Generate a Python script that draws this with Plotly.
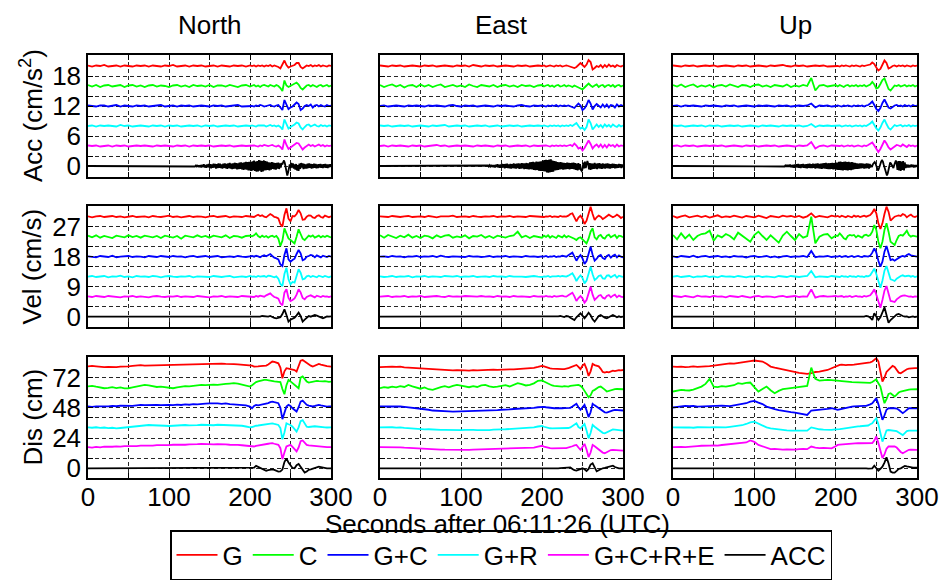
import plotly.graph_objects as go

W, H = 952, 582

# sampling times (s): every 5 s up to 200 s, then every 2.5 s
T = list(range(0, 201, 5)) + [202.5 + 2.5 * i for i in range(40)]
# dense sampling used for the raw accelerometer (ACC) acceleration traces
T_FINE = [0] + list(range(130, 301))

SERIES_NAMES = ["G", "C", "G+C", "G+R", "G+C+R+E", "ACC"]
COLORS = ["#ff0000", "#00ff00", "#0000ff", "#00ffff", "#ff00ff", "#000000"]
COMPONENTS = ["North", "East", "Up"]
QUANTITY_LABELS = ["Acc (cm/s<sup>2</sup>)", "Vel (cm/s)", "Dis (cm)"]
XLABEL = "Seconds after 06:11:26 (UTC)"
TRACE_SPACING = [4, 6, 16]
Y_RANGES = [[-2.2, 22.2], [-3.1, 33.2], [-7.7, 88.4]]
YTICK_VALS = [[0, 2, 6, 10, 12, 14, 18], [0, 3, 9, 15, 18, 21, 27], [0, 8, 24, 40, 48, 56, 72]]
YTICK_TEXT = [["0", "", "6", "", "12", "", "18"],
              ["0", "", "9", "", "18", "", "27"],
              ["0", "", "24", "", "48", "", "72"]]
XTICK_VALS = [0, 50, 100, 150, 200, 250, 300]
XTICK_TEXT = ["0", "", "100", "", "200", "", "300"]

# ---------------- Acceleration (cm/s^2), deviation from trace baseline ----------------
N_ACC_G = [0.1,-0.1,0.1,0.0,0.2,-0.1,0.0,0.1,-0.1,0.1,
           0.0,-0.1,0.1,0.0,0.1,-0.1,0.1,0.0,-0.1,0.1,
           0.0,0.2,-0.1,0.0,0.1,-0.1,0.1,0.0,0.1,-0.1,
           0.0,0.1,-0.1,0.1,0.0,-0.1,0.1,0.0,0.1,-0.1,
           0.1,
           0.0,0.1,-0.1,0.1,0.0,0.1,-0.1,0.1,0.0,0.2,
           -0.1,0.1,0.0,-0.2,-0.5,0.3,1.1,0.2,-0.3,-0.1,
           0.1,0.2,0.6,0.6,-0.2,-0.5,-0.2,0.1,0.0,0.2,
           -0.1,0.1,0.0,0.2,-0.1,0.1,0.0,-0.1,0.1,0.0]
N_ACC_C = [0.2,-0.1,0.2,-0.2,0.1,0.2,-0.1,0.0,0.2,-0.2,
           0.1,0.2,-0.1,0.1,-0.2,0.1,0.2,-0.1,0.1,0.0,
           -0.2,0.1,0.2,-0.1,0.1,-0.2,0.2,0.0,0.1,-0.1,
           0.2,-0.2,0.1,0.1,-0.1,0.2,0.0,-0.2,0.1,0.2,
           -0.1,
           0.1,0.2,-0.1,0.1,-0.2,0.1,0.2,0.0,-0.1,0.2,
           0.1,-0.1,0.2,0.0,-0.4,-1.0,1.1,0.1,-0.2,0.0,
           0.2,0.5,0.7,0.3,-0.4,-0.7,-0.3,0.1,0.2,-0.1,
           0.2,0.0,-0.2,0.1,0.2,-0.1,0.1,0.2,-0.1,0.1]
N_ACC_GC = [0.1,0.0,-0.1,0.1,0.1,-0.1,0.0,0.2,-0.1,0.1,
            0.0,-0.1,0.1,0.0,0.1,-0.1,0.0,0.1,0.2,-0.1,
            0.0,0.1,-0.1,0.1,0.0,0.1,-0.1,0.0,0.1,0.0,
            -0.1,0.1,0.0,0.1,-0.1,0.0,0.1,0.2,-0.1,0.0,
            0.1,
            0.0,-0.1,0.1,0.0,0.2,0.1,-0.1,0.0,0.1,0.2,
            0.0,-0.1,0.1,0.2,-0.3,-0.8,1.2,0.1,-0.6,-0.3,
            -0.1,0.3,0.7,0.4,-0.8,-0.5,0.0,0.2,0.0,0.3,
            -0.3,0.1,0.2,-0.1,0.2,0.0,-0.1,0.2,0.0,0.1]
N_ACC_GR = [0.0,0.1,-0.1,0.1,0.0,0.1,0.0,-0.1,0.2,0.0,
            0.1,-0.1,0.0,0.1,0.0,-0.1,0.1,0.0,0.1,-0.1,
            0.1,0.0,0.1,-0.1,0.0,0.1,0.0,0.1,-0.1,0.1,
            0.0,0.1,-0.1,0.0,0.1,0.0,0.1,-0.1,0.0,0.1,
            0.0,
            0.1,0.0,-0.1,0.1,0.1,0.0,0.1,-0.1,0.1,0.2,
            0.0,0.1,-0.1,0.1,-0.2,-0.7,1.3,0.2,-0.5,-0.2,
            0.0,0.3,0.7,0.5,-0.3,-0.7,-0.2,0.2,0.3,-0.1,
            0.1,0.3,0.0,-0.1,0.2,0.0,0.1,-0.1,0.1,0.0]
N_ACC_GCRE = [0.1,0.0,0.1,-0.1,0.0,0.1,-0.1,0.1,0.0,0.1,
              -0.1,0.0,0.1,0.0,0.1,0.0,-0.1,0.1,0.0,0.1,
              0.0,-0.1,0.1,0.0,0.1,-0.1,0.1,0.0,0.1,0.0,
              0.1,-0.1,0.0,0.1,0.0,0.1,-0.1,0.0,0.1,0.0,
              0.1,
              0.0,0.1,0.0,-0.1,0.1,0.0,0.2,0.1,0.0,0.1,
              0.2,0.0,-0.1,0.1,-0.2,-0.7,1.3,0.2,-0.6,-0.3,
              0.0,0.2,0.6,0.5,-0.2,-0.7,-0.3,0.1,0.3,0.0,
              0.2,-0.1,0.1,0.3,0.0,0.2,-0.1,0.1,0.0,0.1]
N_ACC_ACC = [0.0,
             0.0,0.05,-0.1,0.1,-0.05,0.2,-0.2,0.15,-0.25,0.2,
             -0.3,0.25,-0.2,0.35,-0.3,0.2,-0.35,0.3,-0.25,0.4,
             -0.3,0.35,-0.45,0.3,-0.35,0.45,-0.3,0.4,-0.5,0.35,
             -0.4,0.5,-0.35,0.45,-0.4,0.3,-0.5,0.45,-0.35,0.5,
             -0.45,0.4,-0.55,0.5,-0.4,0.6,-0.5,0.45,-0.6,0.5,
             -0.55,0.65,-0.5,0.6,-0.7,0.55,-0.65,0.7,-0.6,0.75,
             -0.7,0.65,-0.8,0.75,-0.7,0.85,-0.75,0.8,-0.9,0.85,
             -0.9,0.8,-1.0,0.95,-0.85,1.1,-1.0,0.9,-1.15,1.0,
             -1.1,1.2,-0.95,1.1,-1.2,1.0,-1.1,1.15,-0.9,1.0,
             -0.85,0.9,-0.8,0.75,-0.9,0.7,-0.75,0.8,-0.6,0.7,
             -0.7,0.6,-0.75,0.65,-0.55,0.7,-0.6,0.5,-0.3,0.6,
             0.3,0.8,1.1,0.6,-0.4,-1.2,-1.9,-1.3,-0.4,0.3,
             -0.4,0.6,-0.3,0.5,-0.5,0.3,-0.7,0.4,-0.9,0.2,
             -1.0,0.5,-0.6,0.6,-0.3,0.5,-0.6,0.4,-0.5,0.3,
             -0.5,0.45,-0.4,0.5,-0.35,0.4,-0.5,0.35,-0.4,0.45,
             -0.35,0.4,-0.45,0.3,-0.4,0.35,-0.3,0.4,-0.35,0.3,
             -0.4,0.35,-0.3,0.4,-0.35,0.3,-0.4,0.3,-0.25,0.35,
             -0.2]

E_ACC_G = [0.1,0.0,-0.1,0.1,0.0,0.1,-0.1,0.0,0.1,0.0,
           -0.1,0.1,0.0,0.1,-0.1,0.0,0.1,0.0,-0.1,0.1,
           0.0,0.1,-0.1,0.2,0.0,-0.1,0.1,0.0,0.1,-0.1,
           0.0,0.1,0.0,-0.1,0.1,0.0,0.1,-0.1,0.0,0.1,
           0.0,
           0.1,-0.1,0.0,0.1,0.0,-0.1,0.1,0.0,0.1,-0.1,
           0.0,0.1,0.0,-0.1,-0.2,-0.4,-0.2,0.3,0.6,0.2,
           -0.2,0.3,1.2,0.8,-0.7,-0.4,0.0,-0.2,0.2,-0.3,
           0.2,-0.2,0.3,-0.1,0.1,-0.2,0.2,0.0,-0.1,0.1]
E_ACC_C = [0.2,-0.2,0.1,0.3,-0.1,0.2,-0.3,0.1,0.2,-0.2,
           0.3,-0.1,0.2,-0.2,0.1,0.3,-0.2,0.0,0.2,-0.1,
           0.1,-0.2,0.3,0.0,-0.2,0.2,0.1,-0.1,0.2,-0.2,
           0.1,0.2,-0.1,0.1,-0.2,0.2,0.0,0.1,-0.2,0.1,
           0.2,
           -0.1,0.1,0.2,-0.1,0.1,-0.2,0.1,0.2,-0.1,0.0,
           0.2,-0.1,0.1,0.0,-0.2,0.1,-0.1,-0.3,-0.4,-0.7,
           -0.3,0.2,0.5,0.1,-0.2,0.1,0.3,-0.2,0.1,0.2,
           -0.2,0.1,0.2,-0.1,0.2,-0.2,0.1,0.2,-0.1,0.1]
E_ACC_GC = [0.0,0.1,-0.1,0.0,0.1,0.0,-0.1,0.1,0.0,0.1,
            0.0,-0.1,0.1,0.0,0.1,0.0,-0.1,0.1,0.2,0.0,
            -0.1,0.1,0.0,0.1,-0.1,0.0,0.1,0.0,-0.1,0.1,
            0.0,0.1,0.0,-0.1,0.1,0.2,0.0,-0.1,0.1,0.0,
            0.1,
            0.0,-0.1,0.1,0.0,0.1,0.0,0.2,-0.1,0.1,0.0,
            0.1,0.0,0.1,-0.1,-0.3,-0.4,0.1,0.5,0.1,-0.8,
            -0.5,0.2,1.2,0.5,-0.7,0.0,0.4,0.0,-0.3,0.3,
            -0.2,0.3,-0.3,0.2,0.1,-0.3,0.3,-0.1,0.2,0.0]
E_ACC_GR = [0.1,0.0,0.1,-0.1,0.0,0.1,0.0,0.1,-0.1,0.0,
            0.1,0.0,-0.1,0.1,0.0,0.1,0.2,-0.1,0.0,0.1,
            0.0,0.1,-0.1,0.0,0.1,0.0,0.1,-0.1,0.0,0.1,
            -0.1,0.0,0.1,0.0,0.1,-0.1,0.0,0.1,0.0,0.1,
            0.0,
            0.1,0.0,-0.1,0.1,0.0,0.1,0.0,0.1,-0.1,0.1,
            0.0,0.1,0.0,0.2,0.0,0.3,0.6,0.0,-0.5,-0.3,
            -0.8,-0.2,1.3,0.6,-0.7,-0.2,0.3,-0.2,0.2,-0.3,
            0.3,-0.1,0.2,-0.2,0.3,0.0,-0.2,0.2,-0.1,0.1]
E_ACC_GCRE = [0.0,0.1,-0.1,0.1,0.0,0.1,0.0,-0.1,0.1,0.0,
              0.1,-0.1,0.0,0.1,0.2,0.0,0.1,-0.1,0.0,0.1,
              0.0,0.1,0.0,-0.1,0.1,0.0,0.1,0.0,-0.1,0.1,
              0.0,0.1,-0.1,0.0,0.1,0.0,0.1,-0.1,0.1,0.0,
              0.1,
              0.0,0.1,0.0,-0.1,0.1,0.0,0.1,0.0,0.1,0.0,
              0.1,0.0,0.1,0.2,0.0,0.5,0.1,-0.5,-0.3,-0.9,
              -0.4,0.3,1.1,0.4,-0.5,0.0,0.3,-0.2,0.3,-0.3,
              0.2,-0.3,0.3,0.0,0.2,-0.2,0.3,-0.1,0.1,0.0]
E_ACC_ACC = [0.0,
             0.0,0.05,-0.05,0.1,-0.1,0.15,-0.1,0.2,-0.15,0.2,
             -0.25,0.2,-0.3,0.25,-0.2,0.35,-0.3,0.25,-0.35,0.3,
             -0.35,0.4,-0.3,0.35,-0.45,0.4,-0.35,0.45,-0.4,0.3,
             -0.45,0.4,-0.5,0.35,-0.4,0.5,-0.45,0.4,-0.5,0.45,
             -0.4,0.5,-0.55,0.45,-0.5,0.55,-0.45,0.5,-0.6,0.5,
             -0.55,0.6,-0.65,0.55,-0.7,0.75,-0.65,0.8,-0.7,0.85,
             -0.8,0.75,-0.85,0.9,-0.8,0.85,-0.95,0.9,-1.0,0.95,
             -1.0,1.1,-1.05,1.2,-1.1,1.25,-1.3,1.2,-1.35,1.3,
             -1.25,1.35,-1.2,1.1,-1.15,1.0,-0.9,0.95,-0.85,0.8,
             -0.8,0.75,-0.7,0.8,-0.65,0.7,-0.75,0.65,-0.7,0.6,
             -0.65,0.7,-0.6,0.65,-0.7,0.6,-0.55,0.65,-0.6,0.7,
             -0.7,0.6,-0.8,0.5,-0.9,0.6,-0.7,0.4,-0.8,-1.0,
             -0.6,0.7,-0.5,0.9,-0.4,0.8,1.0,0.5,-0.7,0.6,
             -0.8,0.5,-0.6,0.45,-0.55,0.6,-0.5,0.45,-0.6,0.5,
             -0.45,0.55,-0.5,0.4,-0.55,0.5,-0.45,0.4,-0.5,0.45,
             -0.4,0.5,-0.45,0.4,-0.5,0.35,-0.4,0.45,-0.35,0.4,
             -0.45,0.35,-0.4,0.3,-0.35,0.4,-0.3,0.35,-0.4,0.3,
             -0.3]

U_ACC_G = [0.1,0.0,-0.1,0.1,0.0,0.1,-0.1,0.0,0.1,0.0,
           0.1,-0.1,0.0,0.1,0.0,-0.1,0.1,0.0,0.1,-0.1,
           0.0,0.1,0.0,-0.1,0.1,0.0,0.1,0.2,0.0,-0.1,
           0.1,0.0,0.1,-0.1,0.0,0.1,0.0,0.1,-0.1,0.0,
           0.1,
           0.0,-0.1,0.1,0.0,0.1,0.0,-0.1,0.1,0.0,0.1,
           0.0,-0.1,0.1,0.0,0.1,0.2,0.3,0.7,0.4,-0.3,
           -0.9,-0.6,0.3,1.1,0.6,-0.5,-0.3,0.0,0.1,-0.1,
           0.1,0.0,0.1,-0.1,0.1,0.0,-0.1,0.1,0.0,0.1]
U_ACC_C = [0.2,-0.1,0.3,-0.2,0.1,0.3,-0.2,0.1,-0.1,0.2,
           -0.3,0.1,0.2,-0.1,0.3,0.0,-0.2,0.2,0.1,-0.2,
           0.2,0.3,-0.1,0.1,-0.2,0.2,0.1,-0.1,0.3,-0.2,
           0.1,-0.1,0.2,0.0,1.6,-0.9,0.1,0.2,-0.1,0.1,
           0.2,
           -0.1,0.2,0.0,-0.2,0.1,0.2,-0.1,0.1,0.0,0.2,
           -0.1,0.1,0.0,0.2,-0.1,0.1,0.3,0.8,0.3,-0.5,
           -0.3,0.4,1.2,1.5,0.3,-0.6,-0.9,-0.4,0.1,0.0,
           0.2,-0.1,0.1,0.2,-0.1,0.1,0.0,0.2,-0.1,0.1]
U_ACC_GC = [0.0,0.1,-0.1,0.1,0.0,0.1,0.0,-0.1,0.1,0.0,
            0.1,0.0,-0.1,0.1,0.0,0.1,-0.1,0.0,0.1,0.0,
            -0.1,0.1,0.0,0.1,0.0,-0.1,0.1,0.0,0.1,-0.1,
            0.0,0.1,0.0,0.1,0.5,-0.3,0.1,0.0,0.1,-0.1,
            0.0,
            0.1,0.0,-0.1,0.1,0.0,0.1,0.0,-0.1,0.1,0.0,
            0.1,0.0,0.1,-0.1,0.1,0.2,0.5,0.9,0.2,-0.6,
            -1.0,-0.4,0.6,1.3,0.5,-0.3,-0.5,-0.2,0.1,0.2,
            0.0,0.1,-0.1,0.2,0.0,0.1,-0.1,0.2,0.0,0.1]
U_ACC_GR = [0.1,0.0,0.1,-0.1,0.0,0.1,0.0,0.1,-0.1,0.1,
            0.0,0.1,-0.1,0.0,0.1,0.0,0.1,-0.1,0.0,0.1,
            0.0,-0.1,0.1,0.0,0.1,0.0,-0.1,0.1,0.0,0.1,
            0.0,0.1,-0.1,0.0,0.4,-0.2,0.1,0.0,0.1,0.0,
            0.1,
            0.0,0.1,-0.1,0.0,0.1,0.0,0.1,-0.1,0.0,0.1,
            0.0,0.1,-0.1,0.1,0.0,0.2,0.5,0.9,0.1,-0.5,
            -0.9,-0.3,0.6,1.3,0.4,-0.4,-0.7,-0.2,0.2,0.0,
            0.1,0.2,-0.1,0.1,0.0,0.2,-0.1,0.1,0.0,0.1]
U_ACC_GCRE = [0.0,0.1,-0.1,0.1,0.0,0.1,-0.1,0.0,0.1,0.0,
              0.1,0.0,0.1,-0.1,0.0,0.1,0.0,-0.1,0.1,0.0,
              0.1,-0.1,0.0,0.1,0.0,0.1,-0.1,0.0,0.1,0.0,
              -0.1,0.1,0.0,0.1,0.8,-0.5,0.0,0.1,-0.1,0.1,
              0.0,
              0.1,0.0,0.1,-0.1,0.0,0.1,0.0,0.1,-0.1,0.0,
              0.1,0.0,-0.1,0.1,0.0,0.2,0.4,0.7,0.1,-0.6,
              -1.2,-0.6,0.4,1.1,0.5,-0.3,-0.7,-0.4,0.0,0.2,
              0.1,-0.1,0.3,0.1,-0.2,0.2,0.0,0.1,-0.1,0.1]
U_ACC_ACC = [0.0,
             0.0,0.0,0.0,0.0,0.0,0.0,0.05,-0.1,0.1,-0.15,
             0.2,-0.15,0.25,-0.2,0.3,-0.25,0.2,-0.3,0.25,-0.35,
             0.3,-0.25,0.35,-0.3,0.4,-0.35,0.3,-0.4,0.35,-0.3,
             0.4,-0.35,0.3,-0.4,0.35,-0.45,0.4,-0.35,0.45,-0.4,
             0.35,-0.4,0.45,-0.35,0.4,-0.5,0.45,-0.4,0.5,-0.45,
             0.4,-0.5,0.45,-0.55,0.5,-0.45,0.55,-0.5,0.6,-0.55,
             0.5,-0.6,0.55,-0.65,0.6,-0.55,0.65,-0.7,0.6,-0.65,
             0.7,-0.75,0.7,-0.8,0.85,-0.8,0.9,-0.85,0.8,-0.9,
             0.85,-0.8,0.9,-0.85,0.8,-0.9,0.85,-0.8,0.75,-0.85,
             0.8,-0.75,0.7,-0.65,0.6,-0.55,0.5,-0.55,0.45,-0.5,
             0.5,-0.45,0.5,-0.4,0.45,-0.5,0.4,-0.45,0.5,-0.4,
             0.45,-0.5,0.4,-0.3,0.2,0.0,0.4,0.7,0.8,0.5,
             0.0,-0.5,-0.9,-0.6,0.0,0.5,0.9,1.1,0.9,0.3,
             -0.4,-1.1,-1.6,-1.9,-1.5,-0.6,0.2,0.7,0.5,0.1,
             -0.2,-0.4,0.2,0.7,1.1,0.4,-0.8,1.0,-0.9,1.0,
             -1.0,0.9,-0.8,1.0,-0.9,0.7,-0.4,0.3,-0.3,0.25,
             -0.3,0.2,-0.25,0.3,-0.2,0.25,-0.3,0.2,-0.25,0.2,
             -0.2]

# ---------------- Velocity (cm/s) ----------------
N_VEL_G = [0.1,-0.2,0.1,0.2,-0.1,0.0,0.2,-0.1,0.1,-0.2,
           0.1,0.2,-0.1,0.0,0.1,-0.2,0.2,0.0,-0.1,0.1,
           0.3,-0.1,0.1,-0.2,0.0,0.2,-0.1,0.1,0.0,-0.2,
           0.1,0.2,-0.1,0.0,0.2,-0.2,0.1,0.0,-0.1,0.2,
           0.0,
           0.1,-0.1,0.3,0.6,0.2,0.4,0.0,-0.2,0.3,0.8,
           0.4,-0.1,-0.2,-0.5,-2.2,-3.0,0.5,2.5,-0.6,-1.4,
           0.2,0.1,0.8,2.0,1.0,-0.9,-0.8,0.0,0.4,0.3,
           -0.2,-0.4,0.2,0.4,-0.1,-0.3,0.3,0.1,-0.2,0.1]
N_VEL_C = [0.3,-0.2,0.4,-0.3,0.2,0.0,-0.4,0.3,0.1,-0.2,
           0.4,-0.1,0.2,-0.3,0.3,0.1,-0.2,0.2,-0.4,0.3,
           0.0,-0.3,0.2,-0.6,0.3,0.1,-0.2,0.4,-0.1,0.2,
           -0.3,0.3,0.0,-0.2,0.4,-0.4,0.2,0.1,-0.3,0.2,
           0.3,
           0.1,0.4,1.0,0.2,-0.2,0.3,-0.1,0.2,-0.3,0.1,
           0.3,-0.1,0.2,-0.6,-2.8,-1.2,2.5,1.0,-0.5,-1.0,
           -1.6,-2.0,0.0,2.2,0.8,-0.6,-1.0,-0.2,0.3,0.0,
           0.4,-0.3,0.1,0.3,-0.2,0.2,-0.1,0.3,0.0,-0.2]
N_VEL_GC = [0.1,0.0,-0.2,0.2,0.1,-0.1,0.3,-0.2,0.0,0.1,
            0.2,-0.1,0.1,0.0,-0.2,0.2,0.1,-0.1,0.2,0.0,
            -0.1,0.2,0.0,0.1,-0.2,0.1,0.2,-0.1,0.0,0.2,
            -0.1,0.1,0.2,-0.2,0.0,0.1,-0.1,0.2,0.0,-0.1,
            0.1,
            0.2,0.0,0.3,0.1,-0.2,0.2,0.4,0.1,0.5,0.8,
            0.2,-0.3,-0.5,-0.8,-2.3,-2.8,0.5,2.5,-0.8,-1.5,
            -1.0,-0.6,0.8,2.0,1.0,-1.1,-0.8,0.0,0.2,0.5,
            0.3,-0.2,0.4,0.0,-0.2,0.3,0.1,-0.1,0.2,0.0]
N_VEL_GR = [0.0,0.2,-0.1,0.1,0.2,-0.2,0.1,0.0,0.3,-0.1,
            0.1,-0.2,0.2,0.0,0.1,-0.1,0.2,0.1,-0.2,0.1,
            0.2,0.0,-0.1,0.1,0.0,0.2,-0.2,0.1,0.0,0.1,
            -0.1,0.2,0.0,-0.1,0.1,0.2,-0.2,0.0,0.1,-0.1,
            0.2,
            0.0,0.1,-0.1,0.2,0.0,0.1,0.2,-0.1,0.3,0.2,
            0.0,-0.2,0.1,-0.6,-2.2,-2.8,0.8,2.7,-0.8,-2.3,
            -1.6,-1.8,0.2,2.2,1.2,-0.8,-0.6,0.1,0.3,-0.1,
            0.2,0.0,-0.2,0.3,0.1,-0.1,0.2,0.0,-0.2,0.1]
N_VEL_GCRE = [0.1,-0.1,0.2,0.0,-0.1,0.2,0.1,0.0,-0.2,0.1,
              0.0,0.2,-0.1,0.1,0.0,-0.2,0.1,0.2,0.0,-0.1,
              0.1,0.0,0.2,-0.1,0.1,0.0,-0.1,0.2,0.1,0.0,
              -0.2,0.1,0.0,0.2,-0.1,0.1,0.0,-0.1,0.2,0.1,
              0.0,
              0.1,-0.1,0.2,0.0,0.3,0.2,0.0,0.4,0.6,1.0,
              0.4,-0.1,-0.3,-0.6,-2.0,-2.6,1.2,2.2,-0.4,-1.3,
              -1.0,-0.5,0.6,2.2,1.3,-0.4,-0.8,-0.1,0.2,0.4,
              0.1,-0.2,0.3,0.0,-0.1,0.2,0.0,0.1,-0.1,0.1]
N_VEL_ACC = [0.0,0.0,0.0,0.0,0.0,0.0,0.0,0.0,0.0,0.0,
             0.0,0.0,0.0,0.0,0.0,0.0,0.0,0.0,0.0,0.0,
             0.0,0.0,0.0,0.0,0.0,0.0,0.0,0.0,0.0,0.0,
             0.0,0.0,0.1,-0.1,0.1,0.0,-0.1,0.1,0.0,0.1,
             -0.1,
             0.1,0.0,-0.1,0.1,0.0,0.2,0.1,-0.1,0.0,0.2,
             -0.2,-0.4,-0.5,-0.3,-0.2,0.8,2.2,0.5,-1.5,-0.9,
             -0.5,-0.3,0.4,1.2,0.2,-1.5,-0.9,-0.2,0.2,0.0,
             0.3,0.5,0.3,0.0,-0.3,-0.5,-0.2,0.1,0.0,0.1]

E_VEL_G = [0.1,0.0,-0.1,0.2,0.0,-0.1,0.1,0.2,-0.1,0.0,
           0.1,-0.1,0.2,0.0,-0.2,0.1,0.0,0.1,0.3,-0.1,
           0.0,0.1,-0.1,0.2,0.0,-0.1,0.1,0.0,0.2,-0.1,
           0.1,0.0,0.2,-0.1,0.1,0.0,-0.1,0.2,0.1,0.0,
           0.1,
           -0.1,0.1,0.0,0.2,-0.1,0.1,0.0,-0.1,0.2,0.0,
           0.1,0.0,0.3,0.8,1.0,0.0,-1.4,-0.3,0.3,-0.6,
           -2.2,-1.2,1.0,3.0,0.8,-1.0,-0.2,0.3,0.0,-0.7,
           -0.3,0.3,0.6,0.2,-0.2,0.1,0.6,0.2,-0.4,0.0]
E_VEL_C = [0.4,-0.3,0.5,0.1,-0.4,0.3,-0.2,0.6,-0.3,0.2,
           -0.4,0.3,0.1,-0.5,0.4,-0.2,0.3,0.5,-0.3,0.1,
           -0.2,0.4,-0.5,0.2,0.0,0.5,-0.3,0.2,-0.4,0.3,
           0.1,-0.3,0.2,0.4,1.5,-0.2,0.3,-0.4,0.2,0.0,
           -0.3,
           0.3,-0.1,0.4,-0.3,0.2,0.0,-0.4,0.3,0.1,-0.2,
           0.4,-0.2,0.2,0.0,-0.4,-0.6,-1.0,-0.4,-0.2,-0.8,
           -1.5,-2.0,-0.6,1.5,2.5,-0.2,-0.8,0.2,0.5,-0.3,
           -0.6,0.3,0.6,-0.2,0.2,0.5,-0.4,0.3,0.2,-0.2]
E_VEL_GC = [0.0,0.1,-0.1,0.2,0.0,0.1,-0.2,0.1,0.0,0.2,
            -0.1,0.1,0.0,0.2,-0.1,0.3,0.0,-0.1,0.1,0.0,
            0.1,-0.1,0.2,0.0,0.1,-0.1,0.0,0.2,-0.1,0.1,
            0.0,0.2,-0.1,0.1,0.0,-0.1,0.2,0.0,0.1,-0.1,
            0.1,
            0.0,0.2,-0.1,0.1,0.0,0.2,-0.1,0.1,0.0,0.3,
            0.2,0.0,0.4,0.9,1.2,0.0,-1.2,-0.2,0.5,-0.5,
            -2.2,-1.3,1.0,3.0,0.6,-1.2,-0.6,0.2,0.5,-0.4,
            -0.7,0.2,0.5,-0.3,0.3,0.6,-0.2,0.4,0.0,-0.2]
E_VEL_GR = [0.1,-0.1,0.0,0.2,-0.1,0.1,0.0,0.2,-0.2,0.1,
            0.0,0.2,-0.1,0.1,0.0,-0.1,0.2,0.1,0.0,0.2,
            -0.1,0.1,0.0,0.2,-0.1,0.0,0.1,-0.1,0.2,0.0,
            0.1,-0.1,0.2,0.0,0.1,0.0,-0.1,0.1,0.2,0.0,
            -0.1,
            0.1,0.0,0.2,-0.1,0.1,0.0,0.1,0.2,0.0,0.2,
            0.1,0.0,0.3,0.7,1.0,0.0,-1.3,-0.3,0.4,-0.4,
            -2.0,-1.2,1.0,3.0,0.7,-1.0,-0.5,0.2,0.4,-0.5,
            -0.6,0.3,0.4,-0.2,0.2,0.5,-0.3,0.3,0.1,-0.1]
E_VEL_GCRE = [0.0,0.1,0.2,-0.1,0.1,0.0,0.2,-0.1,0.1,0.0,
              0.2,-0.1,0.0,0.1,0.2,0.0,-0.1,0.2,0.0,0.1,
              0.0,0.2,0.1,-0.1,0.0,0.2,0.0,0.1,-0.1,0.2,
              0.0,0.1,-0.1,0.2,0.0,0.1,0.0,-0.1,0.2,0.0,
              0.1,
              0.0,0.2,0.0,0.1,-0.1,0.2,0.0,0.1,0.2,0.3,
              0.1,0.0,0.4,0.9,1.2,0.1,-1.3,-0.4,0.2,-0.5,
              -1.8,-1.0,1.2,3.0,0.6,-1.0,-0.4,0.3,0.5,-0.3,
              -0.6,0.2,0.5,-0.2,0.3,0.6,-0.2,0.3,0.0,-0.1]
E_VEL_ACC = [0.0,0.0,0.0,0.0,0.0,0.0,0.0,0.0,0.0,0.0,
             0.0,0.0,0.0,0.0,0.0,0.0,0.0,0.0,0.0,0.0,
             0.0,0.0,0.0,0.0,0.0,0.0,0.0,0.0,0.0,0.0,
             0.0,0.0,0.1,0.0,-0.1,0.1,0.0,0.1,-0.1,0.0,
             0.1,
             0.0,-0.1,0.1,0.0,0.1,-0.1,0.0,0.1,0.2,0.0,
             -0.1,0.2,0.1,-0.3,-0.7,-1.0,-0.2,0.5,1.0,0.3,
             -0.5,0.3,1.2,0.4,-0.8,-1.5,-0.6,0.2,0.5,0.0,
             -0.3,-0.5,-0.1,0.3,0.5,0.2,-0.2,0.1,-0.1,0.0]

U_VEL_G = [0.2,-0.3,0.1,0.4,-0.2,0.0,0.3,-0.1,0.2,-0.3,
           0.1,0.4,-0.2,0.1,-0.1,0.3,0.0,-0.3,0.2,0.1,
           -0.2,0.3,0.0,-0.4,0.2,0.1,-0.2,0.3,0.0,0.2,
           -0.1,0.2,-0.3,0.1,1.0,-0.2,0.2,0.0,-0.2,0.3,
           0.0,
           0.2,-0.1,0.3,0.0,-0.2,0.2,0.1,-0.2,0.3,0.0,
           0.2,-0.1,0.1,0.3,0.0,0.2,0.5,1.2,2.3,1.0,
           -2.0,-3.7,-2.0,0.8,3.0,1.5,-1.2,-0.6,0.0,0.2,
           0.4,0.2,0.8,0.5,-0.2,0.3,0.6,0.1,-0.1,0.2]
U_VEL_C = [0.5,-0.8,1.0,-0.5,0.6,-1.0,0.2,0.8,1.0,1.8,
           -1.2,0.4,-0.2,0.8,0.2,-0.8,1.2,0.3,-0.6,-1.5,
           0.5,1.5,0.2,-1.0,0.4,-0.8,-1.8,0.3,1.5,0.2,
           -1.0,0.8,-0.3,0.2,6.0,-2.0,0.0,0.6,0.8,-0.5,
           0.3,
           0.2,1.0,0.3,-0.5,-0.8,0.2,0.5,0.3,0.5,-0.2,
           0.3,0.0,-0.3,0.4,0.6,0.2,0.5,1.5,3.5,2.0,
           -1.5,-3.5,-1.5,2.0,4.0,1.5,-1.5,-2.0,-2.5,-1.0,
           0.2,0.5,0.3,1.0,1.8,0.5,0.0,0.3,0.2,0.0]
U_VEL_GC = [0.1,-0.2,0.2,0.0,-0.1,0.3,-0.2,0.1,0.2,-0.1,
            0.0,0.2,-0.1,0.1,-0.2,0.2,0.0,0.1,-0.3,0.1,
            0.2,-0.1,0.0,0.2,-0.2,0.1,-0.3,0.1,0.2,-0.1,
            0.1,0.0,0.2,-0.1,1.7,-0.2,0.1,0.0,0.2,-0.1,
            0.1,
            0.0,0.2,-0.1,0.1,0.2,-0.1,0.0,0.2,-0.1,0.1,
            0.2,0.0,-0.1,0.2,0.1,0.0,0.3,1.2,2.5,1.2,
            -1.2,-3.0,-1.5,1.5,3.2,1.2,-1.0,-0.8,-1.2,-0.8,
            -0.3,0.0,0.2,0.0,0.5,0.8,0.4,0.2,0.1,0.0]
U_VEL_GR = [0.0,0.2,-0.1,0.1,0.2,-0.2,0.1,0.0,0.2,-0.1,
            0.1,-0.2,0.2,0.0,0.1,-0.1,0.2,0.0,-0.2,0.1,
            0.0,0.2,-0.1,0.1,0.0,-0.2,0.2,0.1,-0.1,0.2,
            0.0,-0.1,0.1,0.2,1.7,-0.2,0.1,0.0,-0.1,0.2,
            0.0,
            0.1,-0.1,0.2,0.0,0.1,-0.1,0.2,0.0,0.1,-0.1,
            0.2,0.0,0.1,-0.1,0.2,0.1,0.4,1.3,2.4,0.8,
            -1.6,-3.3,-1.2,1.8,3.2,0.8,-0.8,-1.0,-1.3,-0.6,
            -0.1,0.2,0.4,0.1,0.2,0.3,0.0,0.2,-0.1,0.1]
U_VEL_GCRE = [0.2,0.0,-0.1,0.2,0.1,-0.2,0.3,0.0,0.1,-0.1,
              0.2,0.0,0.1,-0.2,0.2,0.1,-0.1,0.2,0.0,-0.3,
              0.1,0.2,-0.1,0.1,0.0,-0.2,0.1,0.2,-0.1,0.0,
              0.2,-0.1,0.1,0.0,2.2,-0.3,0.1,0.2,0.0,0.1,
              0.2,
              0.0,0.1,0.2,-0.1,0.1,0.0,0.2,-0.1,0.1,0.2,
              0.0,0.1,-0.1,0.2,0.0,0.1,0.4,1.2,2.2,0.6,
              -1.8,-3.3,-1.0,1.8,3.2,0.6,-1.3,-1.4,-1.6,-0.8,
              -0.2,0.1,0.3,0.4,0.2,0.0,0.1,-0.1,0.1,0.0]
U_VEL_ACC = [0.0,0.0,0.0,0.0,0.0,0.0,0.0,0.0,0.0,0.0,
             0.0,0.0,0.0,0.0,0.0,0.0,0.0,0.0,0.0,0.0,
             0.0,0.0,0.0,0.0,0.0,0.0,0.0,0.0,0.0,0.0,
             0.0,0.1,-0.1,0.0,0.1,0.0,-0.1,0.1,0.0,0.1,
             -0.1,
             0.0,0.1,0.0,-0.1,0.1,0.0,0.1,0.0,-0.1,0.1,
             0.0,0.1,-0.1,0.0,0.2,0.1,-0.3,-1.0,1.0,0.0,
             -1.0,-0.2,1.5,2.8,0.5,-1.8,-1.0,-0.5,0.0,0.6,
             0.8,0.4,0.2,0.0,0.1,-0.2,0.0,0.1,-0.1,0.0]

# ---------------- Displacement (cm) ----------------
N_DIS_G = [1.0,1.3,1.0,0.6,0.3,0.5,0.2,0.3,0.8,0.6,
           1.0,1.3,1.8,1.9,1.5,1.6,1.4,1.8,2.0,2.1,
           2.0,2.3,2.1,2.4,2.6,2.3,2.5,2.8,2.9,2.7,
           3.0,3.4,3.3,3.1,2.9,3.0,2.7,2.5,2.2,2.0,
           1.9,
           1.5,0.8,0.6,0.9,1.1,1.3,1.3,1.6,2.5,3.8,
           4.8,4.5,3.8,3.4,0.0,-8.5,-3.0,-0.5,-0.8,-1.2,
           -1.3,-2.0,-3.2,0.5,5.5,6.0,4.8,4.0,2.5,1.5,
           0.8,1.5,2.5,2.9,2.4,1.8,1.3,1.2,1.0,0.8]
N_DIS_C = [1.0,1.5,0.8,0.2,-0.4,-0.2,0.4,-0.3,0.2,-0.5,
           -0.4,0.3,0.8,1.5,2.2,1.8,1.0,0.6,0.9,0.5,
           0.3,-0.4,0.2,0.8,1.2,1.0,1.5,1.8,2.2,2.0,
           2.3,2.5,2.2,2.8,3.0,3.3,3.6,3.2,2.4,1.5,
           0.9,
           2.0,3.6,4.5,5.0,5.5,5.8,6.2,6.2,5.8,5.5,
           5.2,5.0,4.9,4.9,4.5,-1.0,-5.2,2.0,6.2,5.0,
           3.5,2.2,0.5,-0.4,8.0,9.0,7.0,5.0,4.1,4.5,
           5.0,5.7,5.5,5.2,4.8,5.0,5.3,4.9,4.7,4.9]
N_DIS_GC = [1.1,0.8,1.2,1.0,1.4,1.2,1.6,1.3,1.7,1.5,
            1.8,1.6,2.0,2.4,2.1,2.3,2.0,2.4,2.2,2.5,
            2.4,2.2,2.6,2.3,2.8,2.5,3.0,2.7,3.2,3.4,
            3.6,3.8,3.5,3.2,3.5,3.0,2.6,2.8,2.4,2.0,
            1.0,
            -0.3,1.5,2.4,2.0,2.3,2.6,2.8,3.3,3.8,4.5,
            5.0,4.5,4.0,3.7,0.0,-9.0,-4.0,1.0,2.4,1.5,
            -0.3,-1.5,-2.9,0.5,5.0,5.8,4.0,2.4,1.8,1.4,
            1.1,1.5,2.0,2.4,2.0,1.5,1.2,1.0,1.1,1.1]
N_DIS_GR = [0.5,0.2,0.6,0.1,0.4,-0.1,0.2,-0.3,0.0,0.4,
            0.7,1.0,1.4,1.8,2.1,2.4,2.2,1.9,1.6,1.8,
            1.6,1.9,2.2,2.0,2.4,2.1,2.5,2.3,2.6,2.4,
            2.5,2.2,2.6,2.4,2.7,2.3,2.4,2.1,1.8,1.2,
            0.5,
            0.8,1.5,1.8,2.0,2.2,2.6,2.5,2.9,3.2,3.5,
            3.7,3.2,2.8,2.4,0.0,-9.0,-3.5,3.7,3.0,2.4,
            1.0,-1.0,-2.9,0.5,5.5,6.3,4.0,1.1,0.8,1.2,
            1.6,1.4,1.2,0.9,0.7,0.6,0.5,0.4,0.5,0.5]
N_DIS_GCRE = [0.8,0.5,1.0,0.7,1.2,0.9,1.1,1.4,1.2,1.6,
              1.5,1.8,1.6,2.0,1.8,2.2,2.0,2.4,2.2,2.6,
              2.4,2.7,2.5,2.9,2.7,3.0,2.8,3.2,3.4,3.1,
              3.3,3.0,3.2,2.8,3.0,2.7,2.9,2.6,2.3,1.8,
              1.3,
              1.0,1.3,1.8,2.0,2.3,2.5,2.8,3.0,3.5,3.8,
              4.0,3.5,3.0,2.6,0.0,-8.7,-3.5,1.3,2.0,2.6,
              1.0,-1.0,-2.6,0.5,5.5,6.1,4.0,2.6,2.2,2.0,
              1.9,1.6,1.4,1.2,1.0,0.9,0.8,0.8,0.9,0.8]
N_DIS_ACC = [0.0,0.0,0.0,0.0,0.0,0.0,0.0,0.0,0.0,0.0,
             0.0,0.0,0.0,0.0,0.0,0.0,0.0,0.0,0.0,0.0,
             0.0,0.0,0.0,0.0,0.0,0.0,0.0,0.0,0.0,0.0,
             0.0,0.0,0.0,0.0,0.0,0.0,0.0,0.0,0.0,0.0,
             0.0,
             0.0,0.5,1.9,1.2,0.3,-0.8,-1.5,-1.9,-1.5,-1.0,
             -0.8,-1.2,-2.0,-2.6,-2.4,-1.0,5.0,7.9,4.5,2.0,
             0.3,0.0,2.5,3.4,1.0,-2.0,-3.4,-2.5,-1.2,-0.8,
             -0.2,0.5,1.0,1.3,1.0,0.5,0.2,-0.1,0.0,0.0]

E_DIS_G = [0.3,0.6,0.4,0.8,0.5,0.7,0.2,0.0,-0.3,-0.5,
           -0.5,-0.8,-1.0,-1.4,-1.8,-2.0,-2.2,-2.4,-2.3,-2.1,
           -2.4,-2.2,-2.4,-2.0,-2.3,-2.1,-1.8,-2.0,-1.7,-1.9,
           -1.6,-1.8,-1.4,-1.5,-1.3,-1.1,-0.8,-0.5,-0.2,0.5,
           1.3,
           0.9,0.2,-0.5,-0.6,-0.8,-1.0,-1.1,-1.2,-1.3,-1.3,
           -1.2,-1.0,-0.5,0.2,0.8,1.5,2.1,0.5,-1.3,1.5,
           2.9,-1.0,-6.6,-3.0,2.9,2.0,1.3,1.0,-1.0,-3.5,
           -4.0,-3.5,-3.8,-3.2,-2.5,-2.8,-2.3,-2.0,-2.2,-1.9]
E_DIS_C = [-0.4,0.5,0.0,0.9,0.3,1.2,0.6,2.2,1.0,0.0,
           -0.8,0.2,-1.2,-1.7,-0.5,0.5,1.2,0.3,1.5,2.2,
           1.6,0.9,0.4,1.2,0.6,1.8,2.2,1.0,0.5,0.9,
           1.5,2.0,1.0,2.5,3.6,2.8,1.8,2.2,3.5,5.5,
           5.8,
           4.9,4.0,3.0,2.2,1.8,1.5,1.2,1.0,0.8,0.9,
           1.2,0.8,0.9,1.5,1.8,2.0,2.2,2.2,1.5,0.0,
           -2.5,-5.0,-7.6,-6.0,-2.5,-1.7,-0.5,0.5,0.9,0.0,
           -1.5,-3.0,-2.5,-1.8,-1.5,-1.2,-1.0,-1.2,-1.3,-1.2]
E_DIS_GC = [1.1,1.2,1.0,1.2,0.9,1.1,0.8,0.5,0.0,-0.3,
            -0.5,-1.0,-1.5,-2.1,-2.4,-2.6,-2.5,-2.8,-3.0,-2.9,
            -2.8,-2.9,-2.6,-3.0,-2.7,-2.4,-2.6,-2.3,-2.0,-1.8,
            -1.5,-1.1,-1.2,-0.9,-0.8,-0.6,-0.3,-0.4,0.0,0.5,
            1.1,
            0.8,0.5,0.2,0.0,-0.2,-0.3,-0.2,-0.4,-0.3,-0.3,
            -0.2,-0.3,-0.1,0.0,1.0,2.5,3.2,0.5,-1.6,0.5,
            2.4,-2.0,-7.4,-3.5,3.2,2.0,0.8,-0.3,-1.5,-2.8,
            -3.5,-3.7,-3.0,-2.5,-2.0,-1.6,-1.8,-2.0,-2.2,-2.1]
E_DIS_GR = [0.5,0.7,0.4,0.6,0.3,0.5,0.1,-0.2,-0.5,-0.8,
            -0.9,-1.1,-1.0,-1.3,-1.2,-1.5,-1.4,-1.6,-1.5,-1.7,
            -1.6,-1.4,-1.7,-1.5,-1.6,-1.8,-1.5,-1.6,-1.3,-1.4,
            -1.1,-1.0,-0.8,-0.7,-0.5,-0.4,-0.3,-0.1,0.5,1.2,
            1.6,
            1.0,0.5,0.0,-0.2,-0.3,-0.3,-0.4,-0.2,-0.3,-0.3,
            -0.2,-0.3,0.0,0.5,1.5,3.0,3.7,0.8,-0.3,1.5,
            3.2,-2.0,-8.2,-4.0,2.4,1.0,-0.3,-1.1,-2.5,-3.8,
            -4.2,-3.5,-2.5,-1.5,-1.1,-1.3,-1.6,-1.8,-2.0,-2.1]
E_DIS_GCRE = [0.8,0.9,0.7,0.8,0.6,0.7,0.4,0.2,-0.2,-0.5,
              -0.6,-0.8,-0.7,-0.9,-1.0,-1.1,-1.2,-1.3,-1.2,-1.4,
              -1.3,-1.2,-1.3,-1.1,-1.0,-0.9,-0.8,-0.8,-0.7,-0.6,
              -0.5,-0.4,-0.3,-0.2,-0.1,0.0,0.1,0.0,0.5,1.2,
              1.9,
              1.2,0.6,0.2,0.0,-0.1,0.0,0.1,0.0,-0.1,0.0,
              0.1,0.0,0.3,0.8,1.5,2.2,2.6,0.5,-1.3,1.0,
              3.4,-1.0,-7.1,-3.5,2.6,1.5,0.2,-0.8,-2.2,-3.5,
              -4.0,-3.2,-2.2,-1.5,-1.3,-1.4,-1.6,-1.8,-1.9,-1.9]
E_DIS_ACC = [0.0,0.0,0.0,0.0,0.0,0.0,0.0,0.0,0.0,0.0,
             0.0,0.0,0.0,0.0,0.0,0.0,0.0,0.0,0.0,0.0,
             0.0,0.0,0.0,0.0,0.0,0.0,0.0,0.0,0.0,0.0,
             0.0,-0.2,-0.3,-0.4,-0.3,-0.5,-0.4,-0.3,-0.5,-0.4,
             -0.3,
             -0.4,-0.3,-0.2,-0.3,-0.1,0.0,-0.2,0.0,0.2,0.3,
             0.5,0.8,0.6,0.8,-0.5,-1.5,-1.8,-1.0,-0.3,0.0,
             -0.8,-2.1,-0.5,3.0,4.0,0.5,-2.4,-1.5,-0.5,0.0,
             0.3,0.8,1.2,2.0,2.1,1.0,0.2,0.0,0.0,0.0]

U_DIS_G = [0.8,0.5,0.8,0.3,0.5,0.9,0.6,1.0,1.3,1.2,
           1.5,2.0,2.4,2.8,3.4,3.2,3.8,4.5,4.8,5.2,
           5.6,5.0,4.8,3.0,0.8,0.0,-0.8,-1.3,-2.0,-3.2,
           -3.8,-4.2,-4.6,-5.0,-4.5,-3.5,-3.2,-2.6,-1.9,-0.5,
           1.0,
           1.6,2.1,2.4,2.1,1.9,2.2,2.0,2.1,2.3,2.5,
           2.7,2.9,3.0,3.2,3.4,3.8,4.2,4.8,6.0,7.4,
           5.0,-3.0,-11.1,-8.0,-3.5,-1.9,0.0,1.3,0.5,-2.0,
           -4.0,-4.5,-3.5,-2.0,-1.3,-0.8,-0.5,-0.5,-0.5,-0.5]
U_DIS_C = [-3.0,-2.5,-1.7,-2.0,-2.2,-1.5,-0.5,0.9,3.0,7.0,
           0.9,0.5,1.2,0.9,1.5,2.0,3.6,3.0,3.8,4.1,
           0.5,-3.0,-1.0,0.9,-2.0,-4.4,-2.5,-1.2,-0.8,-0.4,
           0.0,0.9,0.9,1.5,16.0,7.0,5.7,6.0,6.2,6.0,
           6.0,
           5.8,5.5,5.3,5.0,4.9,4.9,4.6,4.4,4.3,4.2,
           4.1,4.1,4.0,3.8,3.7,3.6,3.8,4.5,6.0,6.7,
           3.5,0.9,-6.0,-12.3,-9.0,-5.0,-4.4,-6.0,-7.0,-5.5,
           -3.8,-3.0,-2.5,-2.0,-1.7,-1.5,-1.3,-1.2,-1.2,-1.2]
U_DIS_GC = [0.3,0.8,1.0,1.6,1.3,1.5,1.0,1.2,1.1,1.4,
            1.2,1.5,1.8,1.6,1.4,2.0,2.5,3.0,3.7,5.0,
            5.6,4.2,3.0,1.0,-0.3,-1.0,-1.8,-2.1,-2.8,-3.3,
            -3.7,-4.3,-5.0,-5.6,-2.1,-1.9,-1.6,-1.2,-0.8,-0.3,
            -1.0,
            -1.6,-1.2,-0.8,-0.2,0.2,0.6,1.1,1.0,1.2,1.4,
            1.5,1.6,1.5,1.6,1.6,2.0,2.8,3.7,6.0,7.7,
            3.0,-4.0,-9.5,-6.0,-1.5,-0.3,0.0,-0.2,-0.3,-0.5,
            -1.5,-3.0,-4.2,-3.0,-1.5,-0.3,-0.2,-0.3,-0.3,-0.3]
U_DIS_GR = [0.5,0.3,0.6,0.4,0.5,0.2,0.6,0.4,0.8,0.5,
            0.6,0.4,0.7,0.5,0.9,1.2,1.5,2.2,3.2,4.5,
            5.0,3.5,2.0,0.5,-0.3,-0.8,-1.1,-1.5,-1.8,-2.1,
            -2.0,-2.2,-2.1,-2.1,0.5,-0.5,-1.0,-1.3,-1.6,-1.4,
            -1.1,
            -1.2,-0.9,-0.6,-0.3,0.0,0.3,0.6,0.8,1.0,1.2,
            1.3,1.4,1.5,1.5,1.6,2.0,3.0,3.7,6.0,7.7,
            3.0,-4.0,-10.8,-6.5,-2.0,-1.6,-1.8,-2.0,-2.1,-2.5,
            -3.5,-4.8,-5.6,-4.0,-2.5,-2.1,-2.0,-2.1,-2.1,-2.1]
U_DIS_GCRE = [0.8,0.6,1.0,0.9,1.3,1.2,1.6,1.9,1.7,2.0,
              2.2,2.0,2.5,2.8,3.2,3.5,4.0,3.8,4.5,6.1,
              5.0,2.6,1.5,0.5,-0.8,-0.5,-1.0,-1.2,-1.0,-1.3,
              -1.2,-0.8,-0.5,-0.8,1.3,0.5,0.0,0.2,0.0,-0.2,
              1.5,
              2.6,2.8,3.0,3.2,3.4,3.5,3.6,3.8,3.9,4.0,
              4.0,3.9,4.0,4.1,4.0,4.0,4.2,4.0,6.0,9.3,
              4.0,-3.0,-7.9,-5.0,-0.5,1.3,1.5,1.2,1.3,0.5,
              -1.5,-3.0,-4.0,-3.0,-1.8,-1.3,-1.2,-1.3,-1.3,-1.3]
U_DIS_ACC = [0.0,0.0,0.0,0.0,0.0,0.0,0.0,0.0,0.0,0.0,
             0.0,0.0,0.0,0.0,0.0,0.0,0.0,0.0,0.0,0.0,
             0.0,0.0,0.0,0.0,0.0,0.0,0.0,0.1,0.2,0.1,
             0.0,0.2,0.0,0.3,0.1,0.3,0.2,0.4,0.2,0.3,
             0.3,
             0.2,0.4,0.3,0.5,0.3,0.4,0.2,0.3,0.4,0.2,
             0.3,0.2,0.3,0.1,0.0,-0.2,-0.3,0.0,2.1,0.5,
             -1.9,-0.5,1.3,4.5,8.7,4.0,-2.6,-3.4,-3.4,-2.0,
             -0.5,0.0,0.8,1.9,1.5,1.0,0.6,0.5,0.5,0.5]

PANELS = [
    [[N_ACC_G, N_ACC_C, N_ACC_GC, N_ACC_GR, N_ACC_GCRE, N_ACC_ACC],
     [E_ACC_G, E_ACC_C, E_ACC_GC, E_ACC_GR, E_ACC_GCRE, E_ACC_ACC],
     [U_ACC_G, U_ACC_C, U_ACC_GC, U_ACC_GR, U_ACC_GCRE, U_ACC_ACC]],
    [[N_VEL_G, N_VEL_C, N_VEL_GC, N_VEL_GR, N_VEL_GCRE, N_VEL_ACC],
     [E_VEL_G, E_VEL_C, E_VEL_GC, E_VEL_GR, E_VEL_GCRE, E_VEL_ACC],
     [U_VEL_G, U_VEL_C, U_VEL_GC, U_VEL_GR, U_VEL_GCRE, U_VEL_ACC]],
    [[N_DIS_G, N_DIS_C, N_DIS_GC, N_DIS_GR, N_DIS_GCRE, N_DIS_ACC],
     [E_DIS_G, E_DIS_C, E_DIS_GC, E_DIS_GR, E_DIS_GCRE, E_DIS_ACC],
     [U_DIS_G, U_DIS_C, U_DIS_GC, U_DIS_GR, U_DIS_GCRE, U_DIS_ACC]],
]

# ---------------- layout geometry (pixels) ----------------
COL_PX = [(88, 331), (380, 623), (673, 917)]
ROW_PX = [(55, 177), (206, 327), (357, 478)]
FONT = "Liberation Sans, Arial, Helvetica, sans-serif"
FS = 26

fig = go.Figure()
layout = dict(
    width=W, height=H, margin=dict(l=0, r=0, t=0, b=0, autoexpand=False),
    paper_bgcolor="white", plot_bgcolor="white",
    font=dict(family=FONT, size=FS, color="black"),
    showlegend=True,
)

grid_common = dict(showgrid=True, gridcolor="rgba(0,0,0,0.85)", gridwidth=1, griddash="4px,3px",
                   zeroline=False, showline=True, mirror="ticks", linecolor="black", linewidth=1.5,
                   ticks="inside", ticklen=5, tickcolor="black", tickwidth=1, automargin=False,
                   tickfont=dict(family=FONT, size=FS, color="black"))

for r in range(3):
    for c in range(3):
        p = r * 3 + c + 1
        xa = "x" if p == 1 else f"x{p}"
        ya = "y" if p == 1 else f"y{p}"
        series = PANELS[r][c]
        for k, vals in enumerate(series):
            off = (5 - k) * TRACE_SPACING[r]
            xs = T_FINE if (r == 0 and k == 5) else T
            assert len(xs) == len(vals), (r, c, k, len(vals))
            fig.add_trace(go.Scatter(
                x=xs, y=[v + off for v in vals], mode="lines",
                line=dict(color=COLORS[k], width=1.8),
                name=SERIES_NAMES[k], showlegend=(p == 1), legendrank=k,
                xaxis=xa, yaxis=ya, hoverinfo="skip"))
        x0, x1 = COL_PX[c]
        ytop, ybot = ROW_PX[r]
        layout["xaxis" if p == 1 else f"xaxis{p}"] = dict(
            grid_common, domain=[x0 / W, x1 / W], range=[0, 300], anchor=ya,
            tickvals=XTICK_VALS, ticklabelstandoff=-5,
            ticktext=XTICK_TEXT if r == 2 else [""] * len(XTICK_VALS))
        layout["yaxis" if p == 1 else f"yaxis{p}"] = dict(
            grid_common, domain=[1 - ybot / H, 1 - ytop / H], range=Y_RANGES[r], anchor=xa,
            tickvals=YTICK_VALS[r],
            ticktext=YTICK_TEXT[r] if c == 0 else [""] * len(YTICK_VALS[r]))

annotations = []
for c, name in enumerate(COMPONENTS):
    annotations.append(dict(text=name, x=(COL_PX[c][0] + COL_PX[c][1]) / 2 / W, y=1 - 25 / H,
                            xref="paper", yref="paper", xanchor="center", yanchor="middle",
                            showarrow=False, font=dict(family=FONT, size=FS)))
for r, lab in enumerate(QUANTITY_LABELS):
    annotations.append(dict(text=lab, x=32 / W, y=1 - (ROW_PX[r][0] + ROW_PX[r][1]) / 2 / H,
                            xref="paper", yref="paper", xanchor="center", yanchor="middle",
                            textangle=-90, showarrow=False, font=dict(family=FONT, size=FS)))
annotations.append(dict(text=XLABEL, x=497 / W, y=1 - 524 / H, xref="paper", yref="paper",
                        xanchor="center", yanchor="middle", showarrow=False,
                        font=dict(family=FONT, size=FS)))
layout["annotations"] = annotations
layout["legend"] = dict(orientation="h", x=501 / W, xanchor="center", y=2 / H, yanchor="bottom",
                        bordercolor="black", borderwidth=1.5, bgcolor="white",
                        font=dict(family=FONT, size=FS), itemwidth=41, traceorder="normal")

fig.update_layout(**layout)
fig.write_html("out.html", config={"displayModeBar": False},
               post_script="document.body.style.margin='0';")
